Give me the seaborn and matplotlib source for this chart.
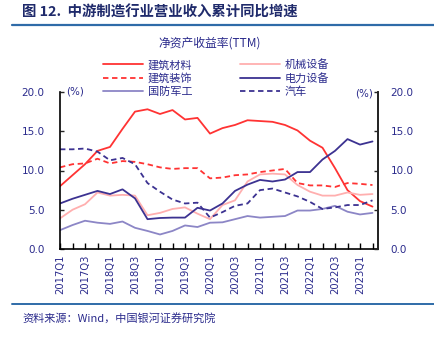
import numpy as np
import pandas as pd
import matplotlib
matplotlib.use("Agg")
import matplotlib.pyplot as plt
from matplotlib.lines import Line2D
import seaborn as sns

quarters = [f"{y}Q{q}" for y in range(2017, 2024) for q in range(1, 5)][:26]

jzcl = [8.0, 9.4, 10.8, 12.5, 13.0, 15.3, 17.5, 17.8, 17.2, 17.7, 16.5, 16.7, 14.7,
        15.4, 15.8, 16.4, 16.3, 16.2, 15.8, 15.1, 13.8, 12.9, 10.3, 7.5, 6.1, 5.4]
jzzs = [10.4, 10.8, 10.9, 11.5, 10.9, 11.2, 11.1, 10.8, 10.4, 10.2, 10.3, 10.3, 9.0,
        9.1, 9.4, 9.5, 9.8, 10.0, 10.2, 8.4, 8.1, 8.1, 7.9, 8.4, 8.3, 8.15]
gfjg = [2.4, 3.05, 3.6, 3.35, 3.2, 3.5, 2.7, 2.3, 1.85, 2.3, 3.0, 2.8, 3.35,
        3.4, 3.8, 4.2, 4.0, 4.1, 4.2, 4.9, 4.9, 5.1, 5.5, 4.75, 4.4, 4.6]
jxsb = [3.9, 5.0, 5.7, 7.2, 6.8, 6.9, 6.8, 4.3, 4.6, 5.1, 5.3, 4.5, 3.8,
        5.6, 6.2, 8.6, 9.5, 9.6, 9.5, 8.15, 7.3, 6.8, 6.8, 7.2, 6.9, 7.0]
dlsb = [5.8, 6.4, 6.9, 7.4, 7.0, 7.6, 6.45, 3.8, 3.95, 4.0, 4.0, 5.25, 4.9,
        5.8, 7.4, 8.2, 8.8, 8.6, 8.85, 9.8, 9.8, 11.4, 12.5, 14.0, 13.3, 13.7]
qc = [12.7, 12.7, 12.8, 12.4, 11.3, 11.6, 10.8, 8.4, 7.3, 6.3, 5.8, 5.9, 4.0,
      4.7, 5.5, 5.8, 7.5, 7.7, 7.2, 6.7, 6.0, 5.1, 5.3, 5.6, 5.6, 6.2]

names = ["建筑材料", "建筑装饰", "国防军工", "机械设备", "电力设备", "汽车"]
series = [jzcl, jzzs, gfjg, jxsb, dlsb, qc]
colors = ["#FF3333", "#FF3333", "#8C86C6", "#FFAFAF", "#3C3291", "#3C3291"]
styles = ["-", (0, (3, 2)), "-", "-", "-", (0, (3, 2))]

rows = []
for n, vals in zip(names, series):
    for i, v in enumerate(vals):
        rows.append({"idx": i, "quarter": quarters[i], "value": v, "series": n})
df = pd.DataFrame(rows)

sns.set_style("ticks")
plt.rcParams["font.family"] = ["Noto Sans CJK SC", "DejaVu Sans"]

navy = "#2B2B8C"
fig = plt.figure(figsize=(4.34, 3.39), dpi=100)
ax = fig.add_axes([60 / 434, 1 - 249 / 339, 318 / 434, 157 / 339])

handles = []
for n, c, ls in zip(names, colors, styles):
    sub = df[df["series"] == n]
    sns.lineplot(data=sub, x="idx", y="value", ax=ax, color=c, lw=1.3,
                 linestyle=ls, legend=False)
    handles.append(Line2D([], [], color=c, lw=1.3, linestyle=ls))

ax.set_xlim(0, 25.44)
ax.set_ylim(0, 20)
ax.set_xlabel("")
ax.set_ylabel("")
ax.set_xticks(range(0, 26), minor=True)
ax.set_xticks(range(0, 26, 2))
ax.set_xticklabels([quarters[i] for i in range(0, 26, 2)], rotation=90,
                   fontsize=7.2, color=navy, family="DejaVu Sans")
ax.tick_params(axis="x", which="both", direction="in", length=4, width=1,
               color="black", pad=4)
ax.set_yticks([0, 5, 10, 15, 20])
ax.set_yticklabels([f"{v:.1f}" for v in [0, 5, 10, 15, 20]], fontsize=7.5,
                   color=navy, family="DejaVu Sans")
ax.tick_params(axis="y", direction="in", length=3, width=1, pad=11)
for s in ["left", "bottom", "right"]:
    ax.spines[s].set_color("black")
    ax.spines[s].set_linewidth(1.2)
ax.spines["top"].set_visible(False)

ax2 = ax.twinx()
ax2.set_ylim(0, 20)
ax2.set_yticks([0, 5, 10, 15, 20])
ax2.set_yticklabels([f"{v:.1f}" for v in [0, 5, 10, 15, 20]], fontsize=7.5,
                    color=navy, family="DejaVu Sans")
ax2.tick_params(axis="y", direction="in", length=3, width=1, pad=9)
ax2.spines["top"].set_visible(False)
ax2.spines["right"].set_linewidth(1.2)
ax2.spines["left"].set_visible(False)
ax2.spines["bottom"].set_visible(False)

ax.text(0.02, 1.0, "(%)", transform=ax.transAxes, fontsize=7.5, color=navy,
        ha="left", va="center", family="DejaVu Sans")
ax.text(0.985, 0.99, "(%)", transform=ax.transAxes, fontsize=7.5, color=navy,
        ha="right", va="center", family="DejaVu Sans")

fig.legend(handles, names, ncol=2, loc="upper left",
           bbox_to_anchor=(97 / 434, 1 - 54 / 339), frameon=False,
           fontsize=8, handlelength=3.6, handletextpad=0.45,
           columnspacing=4.3, labelspacing=0.22, borderpad=0,
           labelcolor=navy)

fig.text(22 / 434, 1 - 13 / 339, "图 12.  中游制造行业营业收入累计同比增速",
         fontsize=10.4, fontweight="bold", color="#1F2A6B", ha="left", va="center")
fig.add_artist(Line2D([12 / 434, 1], [1 - 25 / 339, 1 - 25 / 339],
                      color="#2F6BA8", lw=1.6, transform=fig.transFigure))
fig.text(210 / 434, 1 - 43 / 339, "净资产收益率(TTM)", fontsize=8.5,
         color=navy, ha="center", va="center")
fig.add_artist(Line2D([12 / 434, 1], [1 - 304 / 339, 1 - 304 / 339],
                      color="#2F6BA8", lw=1.4, transform=fig.transFigure))
fig.text(22 / 434, 1 - 318 / 339, "资料来源：Wind，中国银河证券研究院",
         fontsize=8, color="#2B2B8C", ha="left", va="center", style="italic")

fig.savefig("out.png", dpi=100)
